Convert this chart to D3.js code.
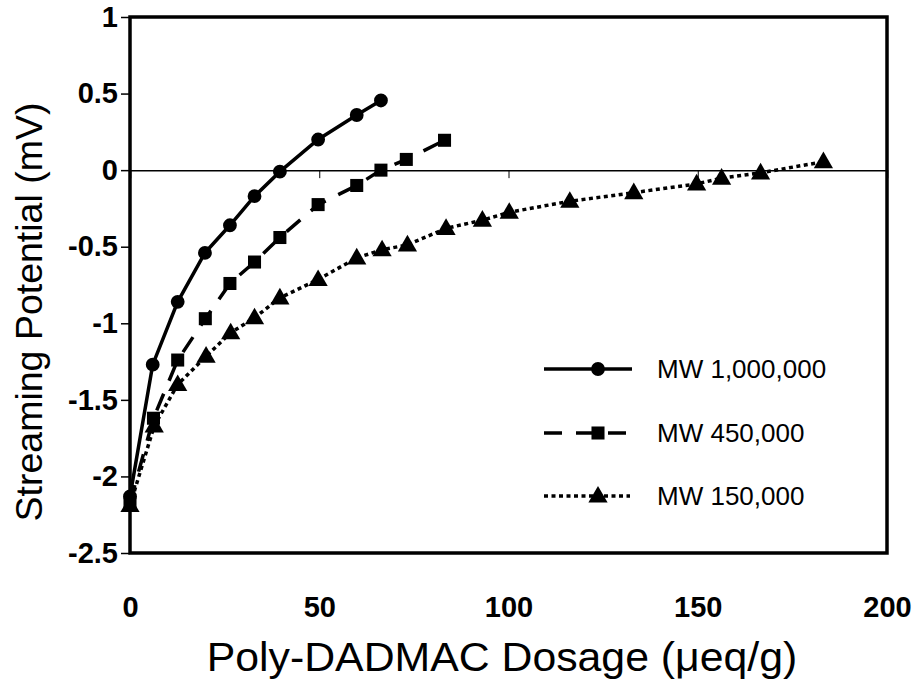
<!DOCTYPE html>
<html>
<head>
<meta charset="utf-8">
<script src="https://cdn.jsdelivr.net/npm/d3@7"></script>
<style>
html,body{margin:0;padding:0;background:#fff;}
svg{display:block;}
svg text{font-family:Arial,"Liberation Sans",Helvetica,sans-serif;}
</style>
</head>
<body>
<svg id="chart" width="921" height="684"></svg>
<script>
// ---- data ----
const seriesNames = ["MW 1,000,000", "MW 450,000", "MW 150,000"];
const xMW1000k = [0, 6.0, 12.6, 19.8, 26.4, 32.9, 39.6, 49.7, 59.9, 66.3];
const yMW1000k = [-2.13, -1.27, -0.86, -0.54, -0.36, -0.17, -0.01, 0.20, 0.36, 0.455];
const xMW450k = [0, 6.2, 12.6, 19.9, 26.4, 32.9, 39.6, 49.7, 59.9, 66.3, 73.0, 83.1];
const yMW450k = [-2.17, -1.62, -1.24, -0.97, -0.74, -0.60, -0.44, -0.225, -0.10, 0.0, 0.07, 0.195];
const xMW150k = [0, 6.4, 12.6, 20.1, 26.6, 32.9, 39.6, 49.7, 59.9, 66.6, 73.3, 83.5, 93.1, 100.2, 116.2, 133.1, 149.7, 156.3, 166.6, 183.2];
const yMW150k = [-2.19, -1.67, -1.40, -1.215, -1.062, -0.964, -0.834, -0.714, -0.573, -0.52, -0.488, -0.380, -0.327, -0.275, -0.203, -0.147, -0.09, -0.052, -0.018, 0.055];
const xTicks = [0, 50, 100, 150, 200];
const yTicks = [-2.5, -2, -1.5, -1, -0.5, 0, 0.5, 1];
const yTickLabels = ["-2.5", "-2", "-1.5", "-1", "-0.5", "0", "0.5", "1"];
const xTitle = "Poly-DADMAC Dosage (\u03BCeq/g)";
const yTitle = "Streaming Potential (mV)";

// ---- layout ----
const FONT = "Arial, 'Liberation Sans', Helvetica, sans-serif";
const L = 130, R = 887, T = 17, B = 553;
const svg = d3.select("#chart");
const x = d3.scaleLinear().domain([0, 200]).range([L, R]);
const y = d3.scaleLinear().domain([-2.5, 1]).range([B, T]);

// zero line with downward ticks (x axis at y=0)
const xAxisZero = d3.axisBottom(x).tickValues([50, 100, 150]).tickSize(8).tickFormat("");
const gz = svg.append("g").attr("transform", `translate(0,${y(0)})`).call(xAxisZero);
gz.select(".domain").attr("stroke", "#000").attr("stroke-width", 1.5);
gz.selectAll(".tick line").attr("stroke", "#000").attr("stroke-width", 1);

// x tick labels at bottom
const xAxisB = d3.axisBottom(x).tickValues(xTicks).tickSize(0).tickPadding(0).tickFormat(d => String(d));
const gxb = svg.append("g").attr("transform", `translate(0,${B})`).call(xAxisB)
  .attr("font-family", FONT).attr("font-size", 29).attr("font-weight", "bold");
gxb.select(".domain").remove();
gxb.selectAll(".tick text").attr("fill", "#000").attr("dy", null).attr("y", 64);

// y axis
const yAxis = d3.axisLeft(y).tickValues(yTicks).tickSize(9).tickPadding(3)
  .tickFormat((d, i) => yTickLabels[i]);
const gy = svg.append("g").attr("transform", `translate(${L},0)`).call(yAxis)
  .attr("font-family", FONT).attr("font-size", 29).attr("font-weight", "bold");
gy.select(".domain").remove();
gy.selectAll(".tick line").attr("stroke", "#000").attr("stroke-width", 1.5);
gy.selectAll(".tick text").attr("fill", "#000");

// frame
svg.append("rect").attr("x", L).attr("y", T).attr("width", R - L).attr("height", B - T)
  .attr("fill", "none").attr("stroke", "#000").attr("stroke-width", 3.5);

// series
const series = [
  {name: seriesNames[0], xs: xMW1000k, ys: yMW1000k, dash: null, marker: "circle"},
  {name: seriesNames[1], xs: xMW450k, ys: yMW450k, dash: "18,14", marker: "square"},
  {name: seriesNames[2], xs: xMW150k, ys: yMW150k, dash: "4,3.5", marker: "triangle"}
];
const line = d3.line().x(d => x(d[0])).y(d => y(d[1]));
const symSize = {circle: 150, square: 170, triangle: 160};
const symType = {circle: d3.symbolCircle, square: d3.symbolSquare, triangle: d3.symbolTriangle};

series.forEach(s => {
  const pts = s.xs.map((v, i) => [v, s.ys[i]]);
  svg.append("path").datum(pts).attr("d", line).attr("fill", "none")
    .attr("stroke", "#000").attr("stroke-width", 3.5)
    .attr("stroke-dasharray", s.dash);
  svg.append("g").selectAll("path").data(pts).join("path")
    .attr("transform", d => `translate(${x(d[0])},${y(d[1]) + (s.marker === "triangle" ? 1 : 0)})`)
    .attr("d", d3.symbol().type(symType[s.marker]).size(symSize[s.marker]))
    .attr("fill", "#000");
});

// legend
const legY = [369, 433, 496];
series.forEach((s, i) => {
  const g = svg.append("g").attr("transform", `translate(0,${legY[i]})`);
  g.append("line").attr("x1", 544).attr("x2", i === 2 ? 630 : 632).attr("y1", 0).attr("y2", 0)
    .attr("stroke", "#000").attr("stroke-width", 3.5).attr("stroke-dasharray", s.dash);
  g.append("path").attr("transform", `translate(598,${s.marker === "triangle" ? 1 : 0})`)
    .attr("d", d3.symbol().type(symType[s.marker]).size(symSize[s.marker])).attr("fill", "#000");
  g.append("text").attr("x", 657).attr("y", 9).attr("font-size", 26).attr("fill", "#000").text(s.name);
});

// axis titles
svg.append("text").attr("transform", "translate(502,671) scale(1.07,1)").attr("text-anchor", "middle")
  .attr("font-size", 40).attr("fill", "#000").text(xTitle);
svg.append("text").attr("transform", `translate(42,312) rotate(-90)`).attr("text-anchor", "middle")
  .attr("font-size", 37.5).attr("fill", "#000").text(yTitle);
</script>
</body>
</html>
